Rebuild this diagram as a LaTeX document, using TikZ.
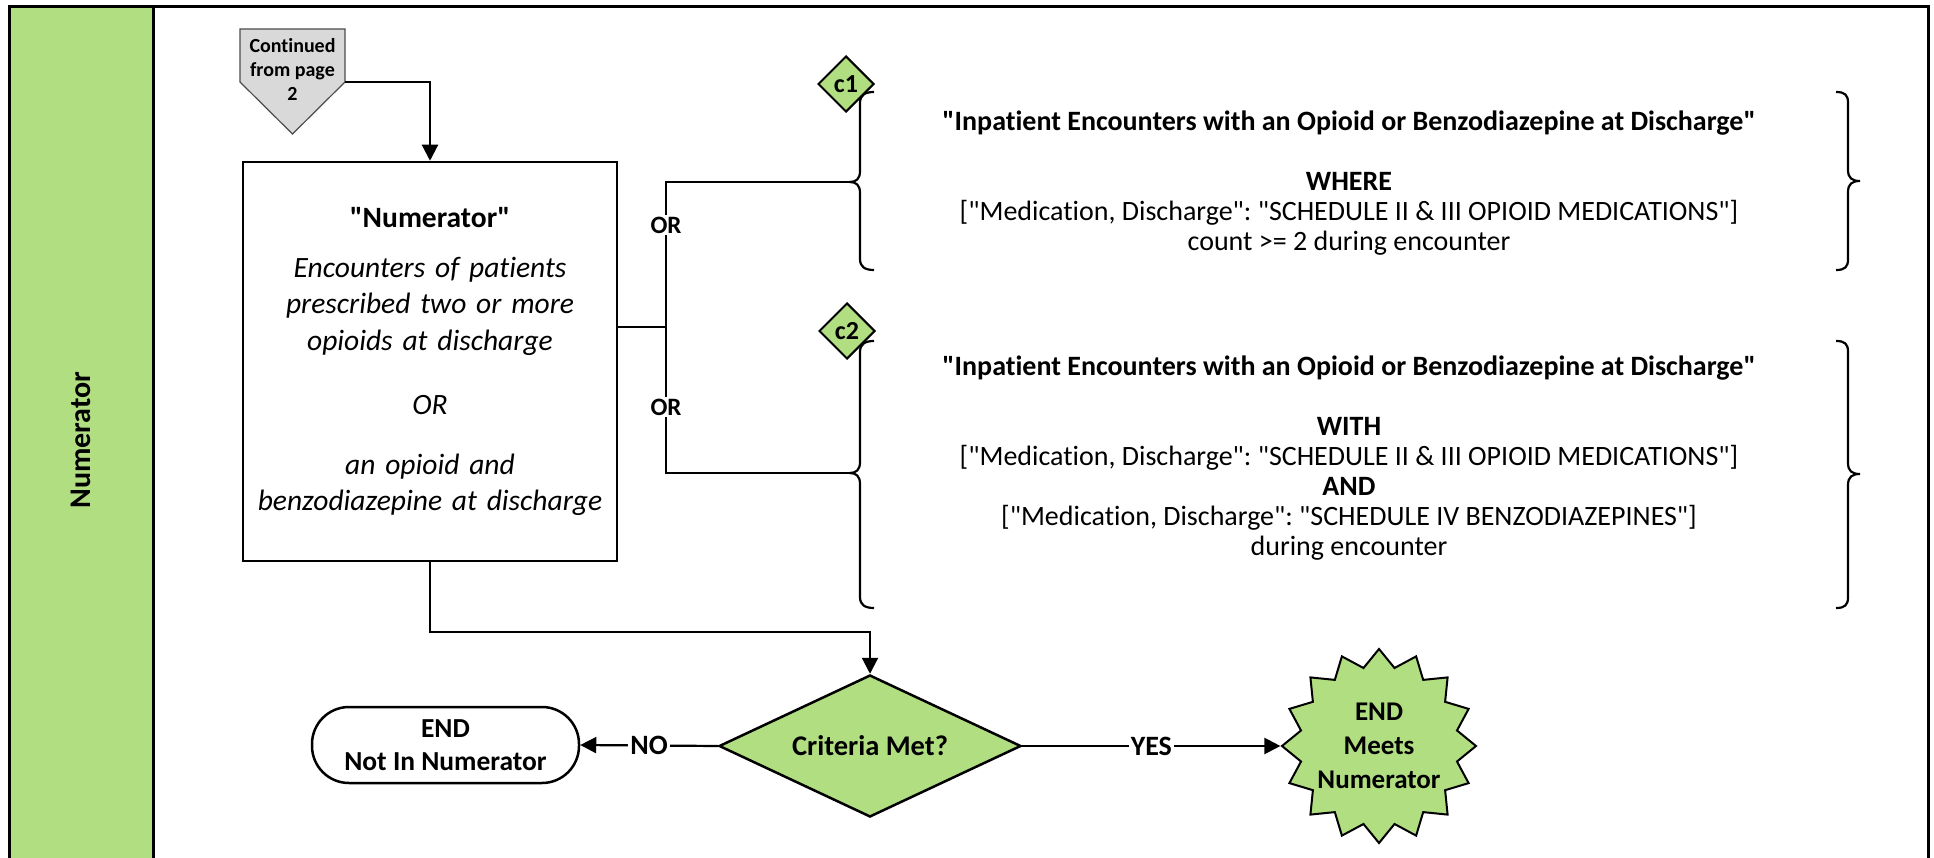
\documentclass[tikz,border=0pt]{standalone}
\usepackage{fontspec}
\setmainfont{Carlito}[Ligatures={TeXOff,CommonOff}]
\usetikzlibrary{shapes.geometric,arrows.meta,calc}
\definecolor{lgreen}{RGB}{178,222,130}
\definecolor{cgray}{RGB}{217,217,217}
\frenchspacing
\begin{document}
\begin{tikzpicture}[x=1pt,y=-1pt,
  ln/.style={line width=2.2pt},
  arr/.style={line width=2.2pt,-{Triangle[length=16pt,width=16pt]}},
  bf24/.style={font=\bfseries\fontsize{25pt}{30pt}\selectfont},
  lab/.style={font=\bfseries\fontsize{28pt}{30pt}\selectfont,fill=white,inner sep=2pt},
  orlab/.style={bf24,fill=white,inner sep=2pt},
  cdia/.style={diamond,draw,fill=lgreen,line width=2pt,minimum width=56pt,minimum height=56pt,inner sep=0pt,font=\bfseries\fontsize{26pt}{30pt}\selectfont},
  crit/.style={align=center,font=\fontsize{28pt}{30pt}\selectfont}]
\useasboundingbox (0,0) rectangle (1934,858);
% swimlane
\fill[lgreen] (9,7) rectangle (153,858);
\draw[line width=3pt] (9,858) -- (9,7) -- (1928,7) -- (1928,858);
\draw[line width=3pt] (153,7) -- (153,858);
\node[font=\bfseries\fontsize{30pt}{32pt}\selectfont,rotate=90] (lane) at (81,440) {Numerator};
% off-page connector
\filldraw[fill=cgray,draw=black!70,line width=1.2pt] (240,29) -- (345,29) -- (345,82) -- (292.5,134) -- (240,82) -- cycle;
\node[align=center,font=\bfseries\fontsize{20pt}{24pt}\selectfont] (cont) at (292.5,69) {Continued\\from page\\2};
\coordinate (contR) at (345,82);
% numerator box
\node[draw,line width=2.5pt,minimum width=374pt,minimum height=399pt,text width=370pt,align=center,inner sep=0pt,font=\fontsize{29.5pt}{36.5pt}\selectfont] (box) at (430,361.5)
 {{\bfseries "Numerator"}\\[13.5pt]
  \itshape Encounters of patients\\ prescribed two or more\\ opioids at discharge\\[27.5pt]
  OR\\[23.5pt] an opioid and\\ benzodiazepine at discharge};
\draw[arr] (contR) -| (box.north);
% OR branches
\coordinate (orjoin) at (666,327);
\coordinate (orT) at (666,182);
\coordinate (orB) at (666,473);
\coordinate (b1tip) at (850,182);
\coordinate (b2tip) at (850,473);
\draw[ln] (box.east |- orjoin) -- (orjoin);
\draw[ln] (b1tip) -- (orT) -- node[orlab,pos=0.148]{OR} node[orlab,pos=0.773]{OR} (orB) -- (b2tip);
% c diamonds
\node[cdia] (c1) at (846,84) {c1};
\node[cdia] (c2) at (847,331) {c2};
% left braces
\draw[ln] (874,92) .. controls (865,92) and (860,95) .. (860,103) -- (860,171) .. controls (860,179) and (856,182) .. (850,182) .. controls (856,182) and (860,185) .. (860,193) -- (860,259) .. controls (860,267) and (865,270) .. (874,270);
\draw[ln] (874,341) .. controls (865,341) and (860,344) .. (860,352) -- (860,462) .. controls (860,470) and (856,473) .. (850,473) .. controls (856,473) and (860,476) .. (860,484) -- (860,597) .. controls (860,605) and (865,608) .. (874,608);
% right braces
\draw[ln] (1836,92) .. controls (1845,92) and (1848,95) .. (1848,103) -- (1848,170) .. controls (1848,178) and (1852,181) .. (1860,181) .. controls (1852,181) and (1848,184) .. (1848,192) -- (1848,259) .. controls (1848,267) and (1845,270) .. (1836,270);
\draw[ln] (1836,341) .. controls (1845,341) and (1848,344) .. (1848,352) -- (1848,463) .. controls (1848,471) and (1852,474) .. (1860,474) .. controls (1852,474) and (1848,477) .. (1848,485) -- (1848,597) .. controls (1848,605) and (1845,608) .. (1836,608);
% criteria texts
\node[crit] (t1) at (1349,183) {{\bfseries "Inpatient Encounters with an Opioid or Benzodiazepine at Discharge"}\\[30pt]
  {\bfseries WHERE}\\\relax
  ["Medication, Discharge": "SCHEDULE II \& III OPIOID MEDICATIONS"]\\
  count >= 2 during encounter};
\node[crit] (t2) at (1349,458) {{\bfseries "Inpatient Encounters with an Opioid or Benzodiazepine at Discharge"}\\[30pt]
  {\bfseries WITH}\\\relax
  ["Medication, Discharge": "SCHEDULE II \& III OPIOID MEDICATIONS"]\\
  {\bfseries AND}\\\relax
  ["Medication, Discharge": "SCHEDULE IV BENZODIAZEPINES"]\\
  during encounter};
% decision
\node[diamond,aspect=2.13,draw,fill=lgreen,line width=2.5pt,minimum width=302pt,minimum height=142pt,inner sep=0pt,font=\bfseries\fontsize{28.5pt}{30pt}\selectfont] (dec) at (870,746) {Criteria Met?};
\node[draw,line width=2.5pt,rounded corners=37pt,minimum width=267pt,minimum height=76pt,align=center,inner sep=0pt,font=\bfseries\fontsize{27.5pt}{33pt}\selectfont] (endno) at (445.5,745) {END\\Not In Numerator};
\node[star,star points=16,star point ratio=1.22,draw,fill=lgreen,line width=2pt,minimum size=194pt,inner sep=0pt] (meets) at (1379,746) {};
\node[align=center,font=\bfseries\fontsize{27pt}{34pt}\selectfont] (meetstext) at (1379,746) {END\\Meets\\Numerator};
\draw[arr] (box.south) -- ++(0,70) -| (dec.north);
\draw[arr] (dec.west) -- node[lab]{NO} (endno.east);
\draw[arr] (dec.east) -- node[lab]{YES} (meets);
\end{tikzpicture}
\end{document}
